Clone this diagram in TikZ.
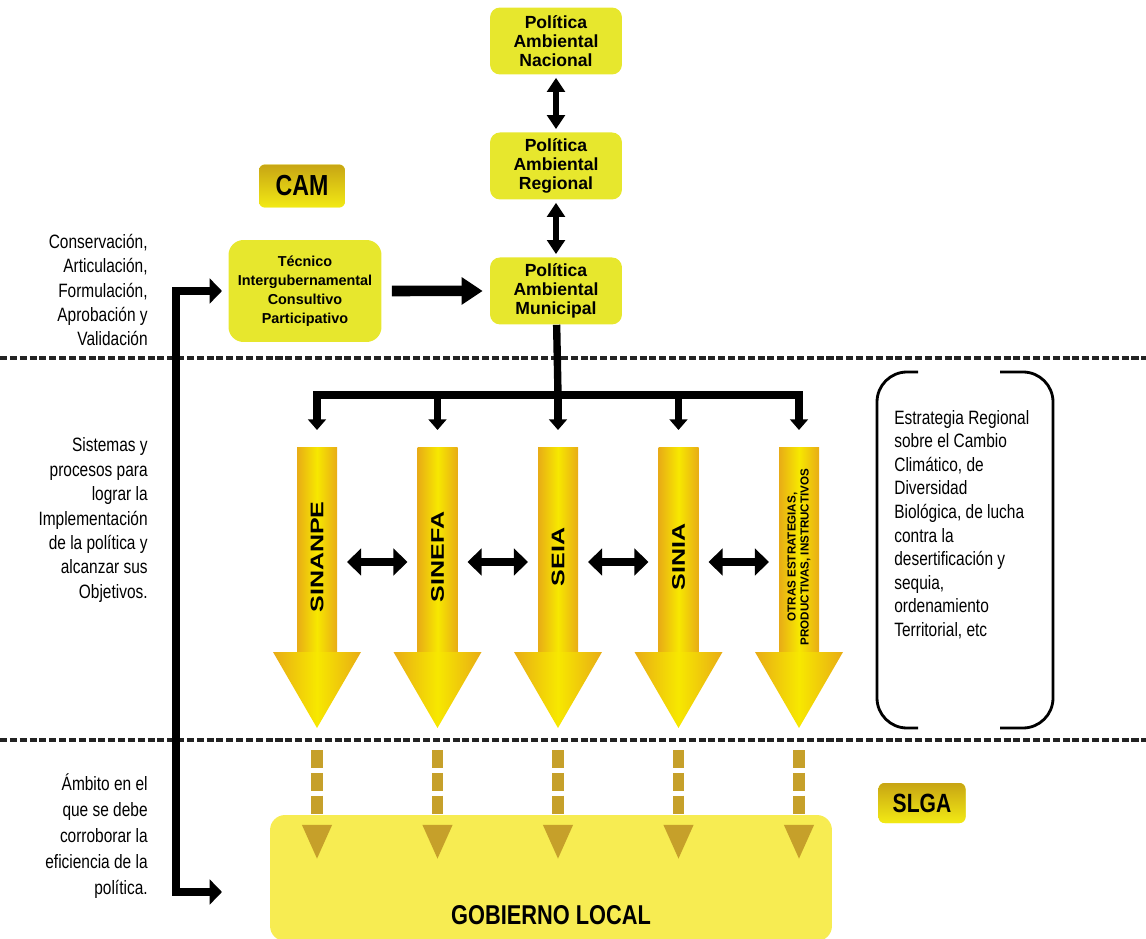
\documentclass[tikz,border=0pt]{standalone}
\usepackage{fontspec}
\setmainfont{Liberation Sans}
\newfontfamily\narrowfont{Liberation Sans}[FakeStretch=0.8]
\newfontfamily\widefont{Liberation Sans}[FakeStretch=1.37]
\usetikzlibrary{arrows.meta}
\definecolor{boxyellow}{RGB}{231,231,45}
\definecolor{govyellow}{RGB}{247,236,82}
\definecolor{camgold}{RGB}{200,165,20}
\definecolor{camyellow}{RGB}{242,234,20}
\definecolor{arroworange}{RGB}{232,172,22}
\definecolor{arrowyellow}{RGB}{247,232,0}
\definecolor{govbrown}{RGB}{198,160,42}
\definecolor{sepgray}{RGB}{35,35,35}
\tikzset{%
  >={Triangle[width=10pt,length=8pt]},
  % Specifications for style of nodes:
            base/.style = {rectangle, rounded corners=0.2cm, fill=boxyellow,
                           text centered, align=center, inner sep=0pt},
          policy/.style = {base, minimum width=2.64cm, minimum height=1.34cm,
                           font=\fontsize{10}{10.9}\selectfont\bfseries},
         council/.style = {base, minimum width=3.06cm, minimum height=2.04cm,
                           rounded corners=0.3cm,
                           font=\fontsize{8.2}{10.8}\selectfont\bfseries},
          tagbox/.style = {base, rounded corners=0.12cm, top color=camgold,
                           bottom color=camyellow,
                           font=\narrowfont\bfseries\fontsize{16.5}{17}\selectfont},
          govbox/.style = {base, fill=govyellow, rounded corners=0.3cm},
        sidetext/.style = {anchor=east, align=right, inner sep=0pt,
                           font=\narrowfont\fontsize{11}{13.9}\selectfont},
        syslabel/.style = {rotate=90, inner sep=0pt,
                           font=\widefont\bfseries\fontsize{10.4}{11}\selectfont},
      otraslabel/.style = {rotate=90, align=center, inner sep=0pt,
                           font=\bfseries\fontsize{6.6}{7.4}\selectfont},
  % Specifications for style of lines:
        bigshaft/.style = {left color=arroworange, right color=arroworange,
                           middle color=arrowyellow},
         sepline/.style = {sepgray, line width=2.3pt, dash pattern=on 4pt off 1.6pt},
         bracket/.style = {line width=1.6pt, rounded corners=0.6cm},
           vlink/.style = {<->, line width=3.4pt, shorten <=0.06cm, shorten >=0.06cm},
           hlink/.style = {{Triangle[width=15pt,length=8pt]}-{Triangle[width=15pt,length=8pt]},
                           line width=4.5pt, shorten <=0.6cm, shorten >=0.6cm},
            flow/.style = {-{Triangle[width=15pt,length=12pt]}, line width=6pt},
             bus/.style = {line width=4.2pt},
        busarrow/.style = {-{Triangle[width=10pt,length=6pt]}, line width=4.2pt},
            side/.style = {{Triangle[width=14pt,length=7pt]}-{Triangle[width=14pt,length=7pt]},
                           line width=4.5pt},
        govarrow/.style = {-{Triangle[width=15.5pt,length=20pt]}, govbrown,
                           line width=6.8pt, shorten <=0.44cm,
                           dash pattern=on 10.2pt off 2.8pt on 10.2pt off 2.8pt on 10.2pt off 30pt},
}

\begin{document}
\begin{tikzpicture}[x=0.02cm, y=-0.02cm, node distance=2.5cm]
  \useasboundingbox (0,0) rectangle (1146,939);

  % Separators
  \draw[sepline]		(0,358) -- (1146,358);
  \draw[sepline]		(0,740) -- (1146,740);

  % Specification of nodes (position, etc.)
  \node (nacional)		[policy] at (556,41) {Política\\Ambiental\\Nacional};
  \node (regional)		[policy, below of=nacional] {Política\\Ambiental\\Regional};
  \node (municipal)		[policy, below of=regional] {Política\\Ambiental\\Municipal};
  \node (cam)			[tagbox, minimum width=1.72cm, minimum height=0.86cm] at (302,186) {CAM};
  \node (tecnico)		[council] at (305,291) {Técnico\\Intergubernamental\\Consultivo\\Participativo};
  \node (slga)			[tagbox, minimum width=1.74cm, minimum height=0.8cm,
                         font=\narrowfont\bfseries\fontsize{15}{15}\selectfont] at (922,803) {SLGA};
  \node (gobierno)		[govbox, minimum width=11.24cm, minimum height=2.52cm] at (551,878) {};
  \node (gobtxt)		[font=\narrowfont\bfseries\fontsize{15.5}{15.5}\selectfont] at (551,915) {GOBIERNO LOCAL};

  \node (fases)			[sidetext] at (148,290) {Conservación,\\Articulación,\\Formulación,\\Aprobación y\\Validación};
  \node (sistemas)		[sidetext] at (148,520) {Sistemas y\\procesos para\\lograr la\\Implementación\\de la política y\\alcanzar sus\\Objetivos.};
  \node (ambito)		[sidetext, font=\narrowfont\fontsize{11}{14.7}\selectfont] at (148,836)
                        {Ámbito en el\\que se debe\\corroborar la\\eficiencia de la\\política.};
  \node (estrategia)	[anchor=north west, align=left, inner sep=0pt,
                         font=\narrowfont\fontsize{11}{13.4}\selectfont] at (894,410)
                        {Estrategia Regional\\sobre el Cambio\\Climático, de\\Diversidad\\Biológica, de lucha\\contra la\\desertificación y\\sequia,\\ordenamiento\\Territorial, etc};
  \draw[bracket]		(918,372) -| (877,728) -- (918,728);
  \draw[bracket]		(1000,372) -| (1053,728) -- (1000,728);

  % Systems
  \foreach \x/\n/\s/\t in {317/sinanpe/syslabel/SINANPE, 437.5/sinefa/syslabel/SINEFA,
      558/seia/syslabel/SEIA, 678.5/sinia/syslabel/SINIA,
      799/otras/otraslabel/{OTRAS ESTRATEGIAS,\\PRODUCTIVAS, INSTRUCTIVOS}} {
    \shade[bigshaft]	(\x-20,447) rectangle (\x+20,653);
    \shade[bigshaft]	(\x-44,652) -- (\x+44,652) -- (\x,728) -- cycle;
    \node (\n)			[\s] at (\x,557) {\t};
    \coordinate (\n-top) at (\x,430);
    \coordinate (\n-mid) at (\x,562);
    \coordinate (\n-tip) at (\x,728);
    \coordinate (\n-gov) at (\x,860);
  }

  \coordinate (bus)		at (558,395);
  \coordinate (spine)	at (176,590);
  \coordinate (tecnico-in) at (222,291);
  \coordinate (gov-in)	at (222,892);

  \draw[vlink]			(nacional) -- (regional);
  \draw[vlink]			(regional) -- (municipal);
  \draw[flow, shorten <=0.2cm, shorten >=0.14cm]	(tecnico) -- (municipal);
  \draw[side]			(tecnico-in) -| (spine) |- (gov-in);
  \draw[bus]			(municipal) -- (bus);
  \foreach \n in {sinanpe, sinefa, seia, sinia, otras}
    \draw[busarrow]		(bus) -| (\n-top);
  \foreach \a/\b in {sinanpe/sinefa, sinefa/seia, seia/sinia, sinia/otras}
    \draw[hlink]		(\a-mid) -- (\b-mid);
  \foreach \n in {sinanpe, sinefa, seia, sinia, otras}
    \draw[govarrow]		(\n-tip) -- (\n-gov);
\end{tikzpicture}
\end{document}
